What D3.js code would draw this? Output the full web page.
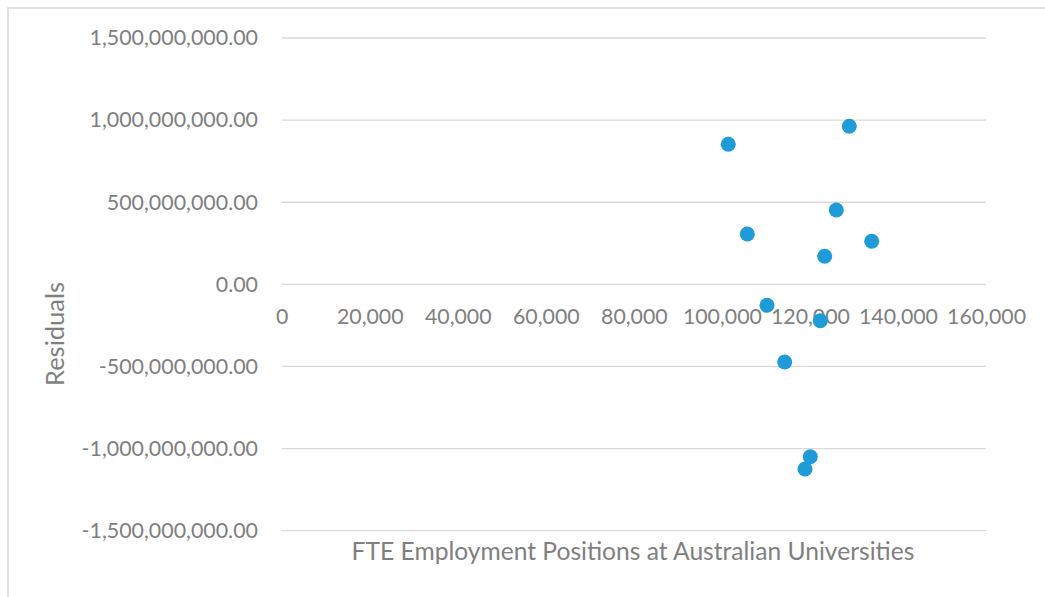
<!DOCTYPE html>
<html>
<head>
<meta charset="utf-8">
<script src="https://cdn.jsdelivr.net/npm/d3@7"></script>
<style>
  html, body { margin: 0; padding: 0; background: #fff; }
  svg { display: block; }
  text { font-family: Lato, "Open Sans", sans-serif; fill: #7f7f7f; }
</style>
</head>
<body>
<svg id="chart" width="1045" height="597"></svg>
<script>
// Data
const fteEmployment = [101457, 128945, 125992, 105774, 134033, 123357, 110249, 122357, 114270, 120085, 118881];
const residuals = [852.7e6, 962.3e6, 452.7e6, 306.6e6, 262.1e6, 170.8e6, -127.6e6, -221.3e6, -472.8e6, -1049.4e6, -1124.3e6];
const xTicks = [0, 20000, 40000, 60000, 80000, 100000, 120000, 140000, 160000];
const yTicks = [-1.5e9, -1e9, -5e8, 0, 5e8, 1e9, 1.5e9];
const xTitle = "FTE Employment Positions at Australian Universities";
const yTitle = "Residuals";

const svg = d3.select("#chart");

// chart border (left + top visible)
svg.append("rect")
  .attr("x", 8).attr("y", 8)
  .attr("width", 1100).attr("height", 700)
  .attr("fill", "none").attr("stroke", "#d9d9d9").attr("stroke-width", 1.5);

const plot = { left: 281.7, right: 986, top: 38, bottom: 530.7 };

const x = d3.scaleLinear().domain([0, 160000]).range([plot.left, plot.right]);
const y = d3.scaleLinear().domain([-1.5e9, 1.5e9]).range([plot.bottom, plot.top]);

const fmtY = v => d3.format(",.2f")(v).replace("−", "-");
const fmtX = d3.format(",");

// gridlines
svg.append("g")
  .selectAll("line").data(yTicks).join("line")
  .attr("x1", plot.left).attr("x2", plot.right)
  .attr("y1", d => y(d)).attr("y2", d => y(d))
  .attr("stroke", "#d9d9d9").attr("stroke-width", 1.3);

// y axis labels
const yAxis = d3.axisLeft(y).tickValues(yTicks).tickFormat(fmtY).tickSize(0).tickPadding(0);
const gy = svg.append("g").attr("transform", `translate(258,0)`).call(yAxis);
gy.select(".domain").remove();
gy.selectAll("text").style("font-size", "21.4px").attr("fill", "#7f7f7f")
  .attr("font-family", "Lato, 'Open Sans', sans-serif");

// x axis labels, placed along the zero line
const xAxis = d3.axisBottom(x).tickValues(xTicks).tickFormat(fmtX).tickSize(0).tickPadding(0);
const gx = svg.append("g").attr("transform", `translate(0,${y(0) + 25})`).call(xAxis);
gx.select(".domain").remove();
gx.selectAll("text").style("font-size", "21.3px").attr("fill", "#7f7f7f")
  .attr("font-family", "Lato, 'Open Sans', sans-serif");

// points
const pts = fteEmployment.map((v, i) => ({ x: v, y: residuals[i] }));
svg.append("g").selectAll("circle").data(pts).join("circle")
  .attr("cx", d => x(d.x)).attr("cy", d => y(d.y))
  .attr("r", 7.5)
  .attr("fill", "#1f9bd7");

// axis titles
svg.append("text")
  .attr("x", 633).attr("y", 560)
  .attr("text-anchor", "middle")
  .style("font-size", "24.6px")
  .text(xTitle);

svg.append("text")
  .attr("transform", "translate(64,334) rotate(-90)")
  .attr("text-anchor", "middle")
  .style("font-size", "25.5px")
  .text(yTitle);
</script>
</body>
</html>
